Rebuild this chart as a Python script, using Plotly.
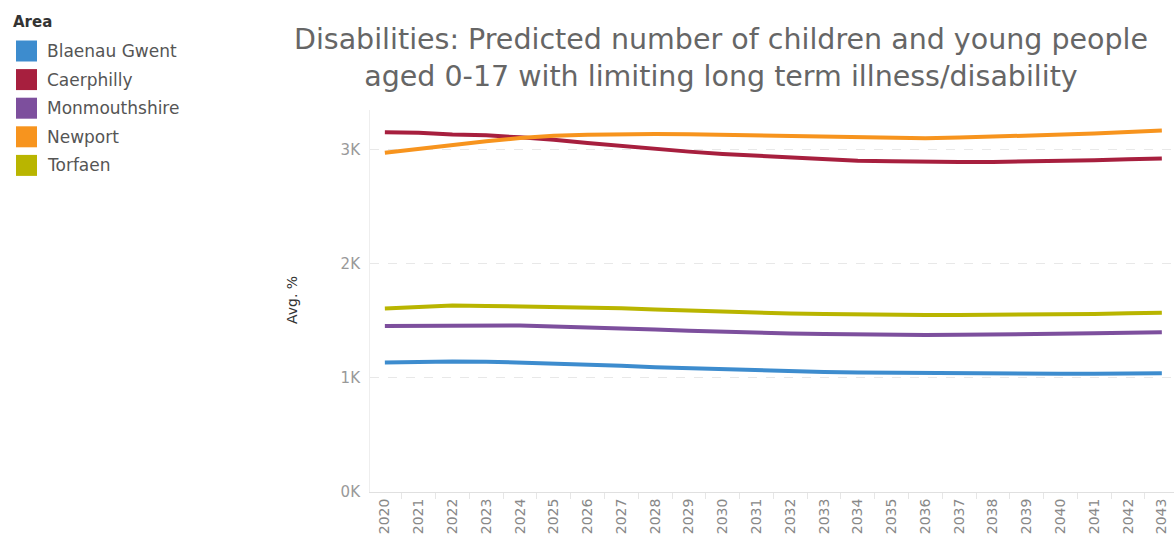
import plotly.graph_objects as go

years = [str(y) for y in range(2020, 2044)]

areas = ["Blaenau Gwent", "Caerphilly", "Monmouthshire", "Newport", "Torfaen"]
colours = ["#3d8cce", "#a71f3e", "#7d4f9d", "#f7941e", "#b9b500"]

blaenau_gwent = [1135, 1142, 1145, 1143, 1135, 1128, 1118, 1108, 1095, 1085, 1078, 1068,
                 1060, 1053, 1048, 1045, 1042, 1040, 1038, 1037, 1037, 1038, 1040, 1042]
caerphilly = [3155, 3150, 3135, 3128, 3110, 3090, 3060, 3035, 3005, 2985, 2965, 2950,
              2935, 2920, 2905, 2900, 2895, 2895, 2895, 2898, 2903, 2910, 2918, 2925]
monmouthshire = [1455, 1458, 1460, 1460, 1460, 1452, 1445, 1435, 1425, 1415, 1405, 1397,
                 1390, 1385, 1380, 1377, 1377, 1378, 1380, 1383, 1387, 1392, 1397, 1401]
newport = [2975, 3010, 3045, 3075, 3105, 3125, 3132, 3138, 3140, 3138, 3133, 3128,
           3122, 3115, 3105, 3100, 3102, 3108, 3115, 3122, 3132, 3143, 3157, 3170]
torfaen = [1610, 1625, 1635, 1632, 1628, 1625, 1620, 1612, 1600, 1590, 1580, 1572,
           1565, 1560, 1555, 1552, 1552, 1552, 1553, 1555, 1558, 1562, 1567, 1572]

series = [blaenau_gwent, caerphilly, monmouthshire, newport, torfaen]

y_ticks = [0, 1000, 2000, 3000]
y_tick_labels = ["0K", "1K", "2K", "3K"]

W, H = 1174, 541
L, R, T, B = 370, 0, 110, 49
pw = W - L - R
ph = H - T - B


def px(x):
    return (x - L) / pw


def py(y):
    return (H - B - y) / ph


font = "DejaVu Sans"

fig = go.Figure()

for name, vals, col in zip(areas, series, colours):
    fig.add_trace(go.Scatter(x=years, y=vals, name=name, mode="lines",
                             line=dict(color=col, width=4),
                             showlegend=False,
                             hovertemplate="%{x}<br>%{y:,.0f}<extra>" + name + "</extra>"))

fig.update_layout(
    width=W, height=H,
    margin=dict(l=L, r=R, t=T, b=B),
    paper_bgcolor="white", plot_bgcolor="white",
    font=dict(family=font, color="#555555"),
    title=dict(text="Disabilities: Predicted number of children and young people<br>"
                    "aged 0-17 with limiting long term illness/disability",
               x=721 / W, xanchor="center", xref="container",
               y=1 - 49 / H, yanchor="top", yref="container",
               font=dict(size=28.5, color="#666666", family=font)),
    xaxis=dict(type="category", range=[-0.44, 23.36],
               tickangle=-90, tickfont=dict(size=14, color="#888888"),
               ticks="outside", ticklen=6, tickcolor="#e6e6e6",
               tickson="boundaries", showgrid=False,
               showline=True, linecolor="#e0e0e0", linewidth=1),
    yaxis=dict(range=[0, 3350], tickvals=y_ticks, ticktext=y_tick_labels,
               tickfont=dict(size=15, color="#999999"),
               showgrid=True, gridcolor="#e8e8e8", griddash="dash", gridwidth=1,
               zeroline=False, showline=True, linecolor="#eeeeee",
               ticks="", ticklabelstandoff=6),
)

# y axis title
fig.add_annotation(text="Avg. %", x=px(282), y=py(300), xref="paper", yref="paper",
                   textangle=-90, showarrow=False,
                   font=dict(size=14, color="#333333", family=font))

# legend drawn as squares + labels
fig.add_annotation(text="<b>Area</b>", x=px(11), y=py(22), xref="paper", yref="paper",
                   xanchor="left", yanchor="middle", showarrow=False,
                   font=dict(size=15, color="#333333", family=font))
for i, (name, col) in enumerate(zip(areas, colours)):
    cy = 51 + i * 28.6
    fig.add_shape(type="rect", xref="paper", yref="paper",
                  x0=px(16), x1=px(37), y0=py(cy - 10.5), y1=py(cy + 10.5),
                  fillcolor=col, line=dict(width=0))
    fig.add_annotation(text=name, x=px(45), y=py(cy), xref="paper", yref="paper",
                       xanchor="left", yanchor="middle", showarrow=False,
                       font=dict(size=17, color="#555555", family=font))

fig.write_html("out.html", config={"displayModeBar": False},
               post_script="document.body.style.margin='0';")
